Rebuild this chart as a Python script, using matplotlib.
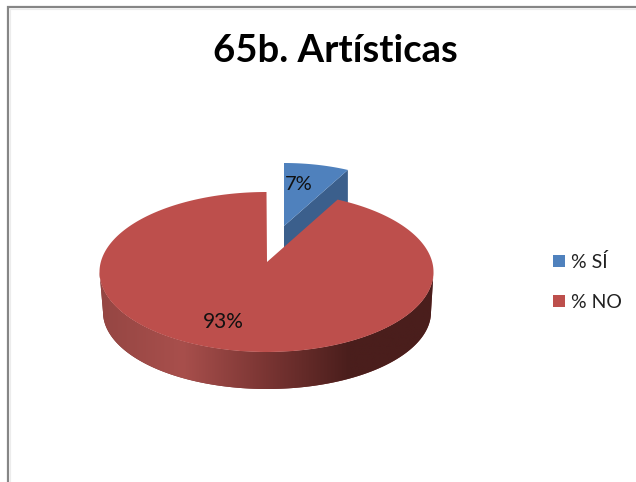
#3D looking pie chart, drawn by hand since matplotlib has no 3D pie
import numpy as np
import matplotlib
matplotlib.use('Agg')
import matplotlib.pyplot as plt
from matplotlib.colors import LinearSegmentedColormap
from matplotlib.patches import Patch

title = '65b. Artísticas'
categories = ['% SÍ', '% NO']
percents = [7, 93]
labels = ['7%', '93%']
colors = ['#4f81bd', '#bd4f4c']
blue_side = '#3b5f8c'
red_side = ['#954643', '#a84f4c', '#7a3533', '#4a1e1c', '#4a1e1c']

plt.rcParams['font.family'] = ['Lato', 'DejaVu Sans']

f = plt.figure(figsize=(6.36, 4.82), dpi=100)
ax = f.add_axes([0, 0, 1, 1])
ax.axis('off')

#Slice angles, clockwise from 12 o'clock
split = 2*np.pi*percents[0]/sum(percents)

#Point on an ellipse for a given pie angle
def rim(t, cx, cy, rx, ry):
    return cx + rx*np.sin(t), cy - ry*np.cos(t)

#Frame of the pasted chart, only top and left show
ax.plot([8, 8, 636], [482, 7, 7], color='#868686', lw=1.6, solid_joinstyle='miter')
ax.plot([10, 10, 636], [482, 9, 9], color='#ececec', lw=0.8)

#Blue slice, pulled out of the pie
t = np.linspace(0, split, 40)
bx, by = rim(t, 284, 236, 150, 73)
ax.fill([284, bx[-1], bx[-1], 284], [226, by[-1], by[-1]+37, 263], color=blue_side, lw=0)
ax.fill(np.r_[284, bx], np.r_[226, by], color=colors[0], lw=0)

#Red side wall, gradient image clipped to the wall outline
cmap = LinearSegmentedColormap.from_list('side', red_side)
t = np.linspace(np.pi/2, 3*np.pi/2, 200)
x1, y1 = rim(t, 266.5, 272, 167, 80)
x2, y2 = rim(t, 267, 312, 164, 77)
wall = ax.fill(np.r_[x1, x2[::-1]], np.r_[y1, y2[::-1]], color=red_side[2], lw=0)[0]
grad = ax.imshow(np.linspace(0, 1, 256).reshape(1, -1), cmap=cmap, aspect='auto', zorder=1,
                 extent=(99, 433, 392, 270), interpolation='bilinear')
grad.set_clip_path(wall)

#Red top face
t = np.linspace(split, 2*np.pi, 300)
rx_, ry_ = rim(t, 266.5, 272, 167, 80)
ax.fill(np.r_[267, rx_], np.r_[262, ry_], color=colors[1], lw=0, zorder=2)

ax.set_xlim(0, 636)
ax.set_ylim(482, 0)

ax.text(335.5, 51, title, fontsize=27.5, fontweight='bold', color='black', ha='center', va='center')
ax.text(299, 184, labels[0], fontsize=14.5, color='#111111', ha='center', va='center')
ax.text(223, 322, labels[1], fontsize=15, color='#111111', ha='center', va='center')

handles = [Patch(facecolor=c, edgecolor='none', label=n) for c, n in zip(colors, categories)]
ax.legend(handles=handles, loc='center left', bbox_to_anchor=(535.5/636, 1-282/482), frameon=False,
          fontsize=14, handlelength=0.6, handleheight=0.6, handletextpad=0.35, labelspacing=1.2,
          labelcolor='#222222')

f.savefig('out.png', dpi=100)
